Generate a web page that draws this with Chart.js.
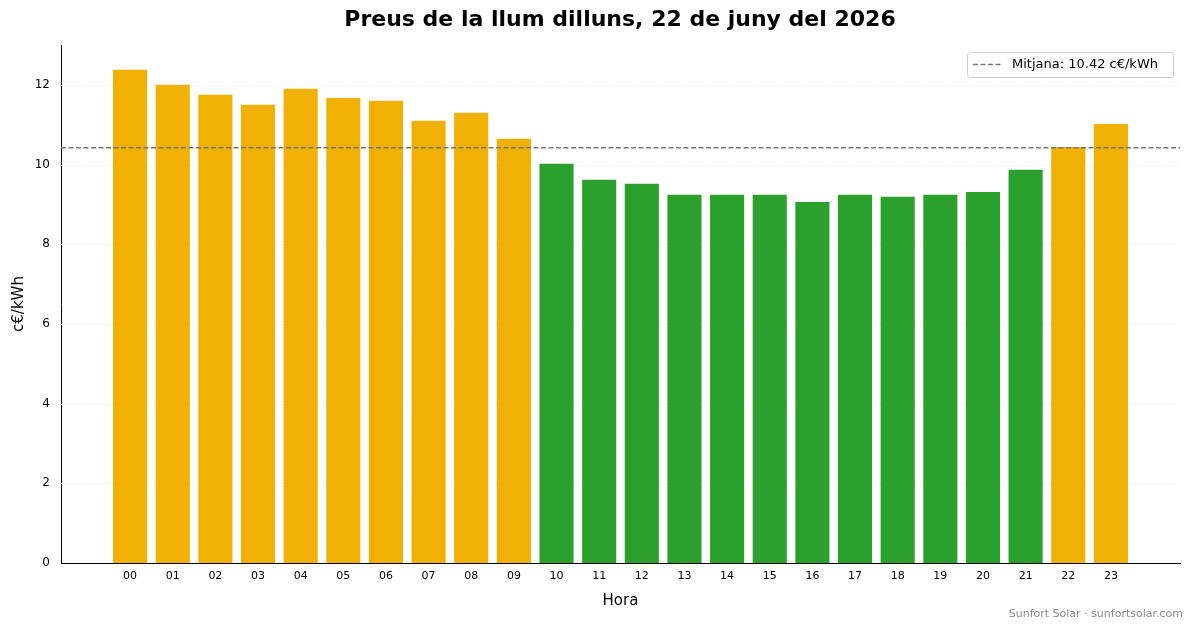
<!DOCTYPE html>
<html>
<head>
<meta charset="utf-8">
<script src="https://cdn.jsdelivr.net/npm/chart.js@4"></script>
<style>
  body { margin: 0; background: #fff; }
  canvas { display: block; }
</style>
</head>
<body>
<canvas id="chart" width="1193" height="628"></canvas>
<script>
// hourly prices
const HOURS = ['00','01','02','03','04','05','06','07','08','09','10','11','12','13','14','15','16','17','18','19','20','21','22','23'];
const PRICES = [12.38, 12.00, 11.75, 11.50, 11.90, 11.67, 11.60, 11.10, 11.30, 10.65, 10.02, 9.62, 9.52, 9.24, 9.24, 9.24, 9.06, 9.24, 9.19, 9.24, 9.31, 9.87, 10.44, 11.02];
const MEAN = 10.42;
const Y_TICKS = [0, 2, 4, 6, 8, 10, 12];

const COLOR_HIGH = '#f0b004';
const COLOR_LOW = '#2ca02c';
const FONT = 'DejaVu Sans';

// bars under the mean are green, the rest orange
const barColors = PRICES.map(function(p) { return p < MEAN ? COLOR_LOW : COLOR_HIGH; });
const points = PRICES.map(function(p, i) { return { x: i, y: p }; });

// draws title, dotted grid, mean line, legend box and footer
const extras = {
  id: 'extras',
  beforeDatasetsDraw(chart) {
    const ctx = chart.ctx, a = chart.chartArea, y = chart.scales.y;
    ctx.save();
    ctx.strokeStyle = '#dddddd';
    ctx.lineWidth = 0.8;
    ctx.setLineDash([1, 2]);
    Y_TICKS.forEach(function(t) {
      if (t === 0) return;
      const py = Math.round(y.getPixelForValue(t)) + 0.5;
      ctx.beginPath(); ctx.moveTo(a.left, py); ctx.lineTo(a.right, py); ctx.stroke();
    });
    ctx.restore();
  },
  afterDatasetsDraw(chart) {
    const ctx = chart.ctx, a = chart.chartArea, y = chart.scales.y;
    ctx.save();
    // mean line
    const my = y.getPixelForValue(MEAN);
    ctx.strokeStyle = '#777777';
    ctx.lineWidth = 1.5;
    ctx.setLineDash([5, 2.5]);
    ctx.beginPath(); ctx.moveTo(a.left, my); ctx.lineTo(a.right, my); ctx.stroke();

    // legend
    ctx.setLineDash([]);
    ctx.fillStyle = 'rgba(255,255,255,0.85)';
    ctx.strokeStyle = '#cccccc';
    ctx.lineWidth = 1;
    const bx = 967, by = 52, bw = 206, bh = 25;
    ctx.beginPath(); ctx.roundRect(bx + 0.5, by + 0.5, bw, bh, 3); ctx.fill(); ctx.stroke();
    ctx.strokeStyle = '#777777';
    ctx.lineWidth = 1.5;
    ctx.setLineDash([5, 2.5]);
    ctx.beginPath(); ctx.moveTo(bx + 6, by + 12.5); ctx.lineTo(bx + 34, by + 12.5); ctx.stroke();
    ctx.setLineDash([]);
    ctx.fillStyle = '#000';
    ctx.font = '13px ' + FONT;
    ctx.textBaseline = 'middle';
    ctx.fillText('Mitjana: ' + MEAN.toFixed(2) + ' c€/kWh', bx + 45, by + 13);

    // title
    ctx.font = 'bold 22px ' + FONT;
    ctx.textAlign = 'center';
    ctx.fillText('Preus de la llum dilluns, 22 de juny del 2026', 620, 20);

    // footer
    ctx.font = '11px ' + FONT;
    ctx.fillStyle = '#888888';
    ctx.textAlign = 'right';
    ctx.fillText('Sunfort Solar · sunfortsolar.com', 1183, 614);
    ctx.restore();
  }
};

new Chart(document.getElementById('chart'), {
  type: 'bar',
  data: {
    datasets: [{
      data: points,
      backgroundColor: barColors,
      barPercentage: 0.8,
      categoryPercentage: 1.0
    }]
  },
  options: {
    responsive: false,
    animation: false,
    layout: { padding: { left: 0, right: 13, top: 45, bottom: 0 } },
    plugins: { legend: { display: false }, tooltip: { enabled: false } },
    scales: {
      x: {
        type: 'linear',
        offset: false,
        min: -1.62,
        max: 24.62,
        afterBuildTicks: function(s) { s.ticks = HOURS.map(function(h, i) { return { value: i }; }); },
        afterFit: function(s) { s.height = 65; },
        ticks: {
          autoSkip: false, maxRotation: 0,
          color: '#000', font: { family: FONT, size: 11 },
          callback: function(v) { return HOURS[v]; }
        },
        grid: { display: false, tickLength: 4, drawTicks: true },
        border: { display: true, color: '#000', width: 1 },
        title: { display: true, text: 'Hora', color: '#000', font: { family: FONT, size: 15 }, padding: { top: 4, bottom: 18 } }
      },
      y: {
        min: 0,
        max: 13,
        afterBuildTicks: function(s) { s.ticks = Y_TICKS.map(function(v) { return { value: v }; }); },
        afterFit: function(s) { s.width = 61; },
        ticks: { color: '#000', font: { family: FONT, size: 12 } },
        grid: { display: false },
        border: { display: true, color: '#000', width: 1 },
        title: { display: true, text: 'c€/kWh', color: '#000', font: { family: FONT, size: 15 }, padding: { top: 10 } }
      }
    }
  },
  plugins: [extras]
});
</script>
</body>
</html>
